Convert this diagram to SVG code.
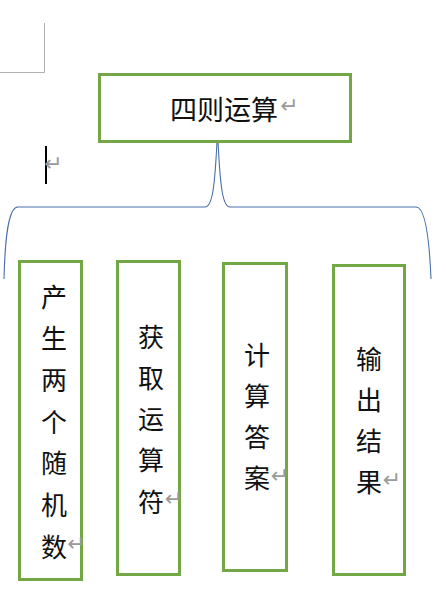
<svg xmlns="http://www.w3.org/2000/svg" width="446" height="612" viewBox="0 0 446 612">
<style>
.box{fill:#fff;stroke:#73a745;stroke-width:3}
.t{font-family:"Noto Sans CJK SC","Noto Sans",sans-serif;font-size:26px;fill:#111;dominant-baseline:central;text-anchor:middle}
.tt{font-family:"Noto Sans CJK SC","Noto Sans",sans-serif;font-size:27px;fill:#111;dominant-baseline:central}
.rm{font-family:"DejaVu Sans",sans-serif;font-size:22px;fill:#9a9a9a;dominant-baseline:central}
.br{fill:none;stroke:#4a6ea8;stroke-width:1.1}
</style>
<rect width="446" height="612" fill="#fff"/>
<path d="M0 72.5H44.5V23" fill="none" stroke="#b0b0b0" stroke-width="1"/>
<line x1="46" y1="146" x2="46" y2="184" stroke="#000" stroke-width="2"/>
<text class="rm" x="44" y="163">↵</text>
<g id="connectors">
<path class="br" d="M4 279C5 240 8 207 18 207H205C212 207 215 190 217.5 130C220 190 223 207 230 207H416C424 207 429 230 431 279"/>
</g>
<g id="root">
<rect class="box" x="99.5" y="74.5" width="251" height="67"/>
<text class="tt" x="170" y="108">四则运算</text>
<text class="rm" x="280" y="105">↵</text>
</g>
<g id="n1">
<rect class="box" x="19.5" y="261.5" width="62" height="318"/>
<text class="t" x="54" y="295">产</text>
<text class="t" x="54" y="336.7">生</text>
<text class="t" x="54" y="378.3">两</text>
<text class="t" x="54" y="420">个</text>
<text class="t" x="54" y="461.7">随</text>
<text class="t" x="54" y="503.3">机</text>
<text class="t" x="54" y="545">数</text>
<text class="rm" x="67" y="543">↵</text>
</g>
<g id="n2">
<rect class="box" x="117.5" y="261.5" width="62" height="313"/>
<text class="t" x="151" y="335">获</text>
<text class="t" x="151" y="376.2">取</text>
<text class="t" x="151" y="417.5">运</text>
<text class="t" x="151" y="458.7">算</text>
<text class="t" x="151" y="500">符</text>
<text class="rm" x="164.5" y="498">↵</text>
</g>
<g id="n3">
<rect class="box" x="223.5" y="263.5" width="63" height="307"/>
<text class="t" x="257" y="353.5">计</text>
<text class="t" x="257" y="394.5">算</text>
<text class="t" x="257" y="435.5">答</text>
<text class="t" x="257" y="476.5">案</text>
<text class="rm" x="270.5" y="475">↵</text>
</g>
<g id="n4">
<rect class="box" x="333.5" y="265.5" width="71" height="309"/>
<text class="t" x="369" y="357.5">输</text>
<text class="t" x="369" y="398.5">出</text>
<text class="t" x="369" y="439.5">结</text>
<text class="t" x="369" y="480.5">果</text>
<text class="rm" x="382.5" y="479">↵</text>
</g>
</svg>
